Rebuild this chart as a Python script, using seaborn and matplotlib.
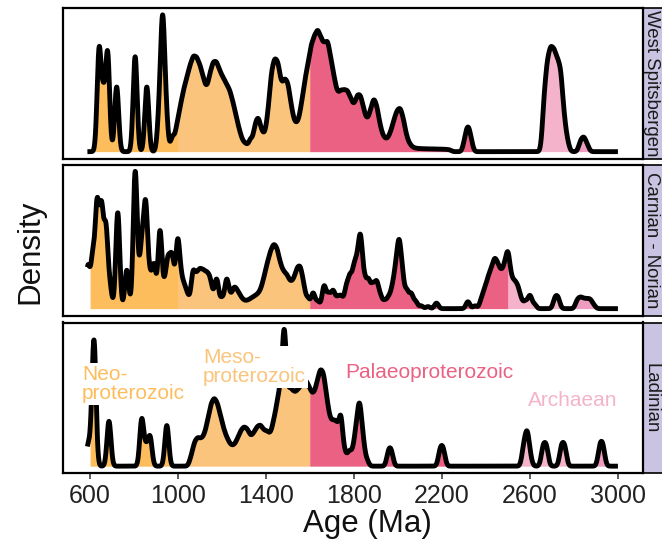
import numpy as np
import matplotlib
matplotlib.use("Agg")
import matplotlib.pyplot as plt
import matplotlib.transforms as mtransforms
from matplotlib.patches import Rectangle
import seaborn as sns

# ---------------- data (ages in Ma, relative weights) -------------
panels = ["West Spitsbergen", "Carnian - Norian", "Ladinian"]

ws_ages = [641, 660, 680, 721, 805, 858, 915, 930, 945, 975, 995, 1010, 1025, 1040, 1055,
           1070, 1085, 1100, 1115, 1130, 1145, 1160, 1175, 1190, 1205, 1220, 1235, 1250,
           1265, 1280, 1295, 1310, 1330, 1350, 1365, 1380, 1395, 1410, 1425, 1440, 1455,
           1470, 1485, 1500, 1515, 1530, 1545, 1560, 1575, 1590, 1605, 1620, 1635, 1650,
           1665, 1680, 1695, 1710, 1725, 1740, 1755, 1770, 1785, 1800, 1815, 1830, 1845,
           1860, 1875, 1890, 1905, 1920, 1935, 1950, 1965, 1980, 1995, 2010, 2025, 2040,
           2055, 2070, 2085, 2100, 2115, 2130, 2145, 2160, 2175, 2190, 2205, 2220, 2235,
           2305, 2318, 2331, 2665, 2680, 2695,
           2710, 2725, 2740, 2755, 2770, 2830, 2845, 2860]
ws_wts = [0.72, 0.37, 0.70, 0.47, 0.69, 0.47, 0.25, 0.87, 0.25, 0.10, 0.14, 0.22, 0.30, 0.36, 0.42,
          0.47, 0.46, 0.42, 0.36, 0.30, 0.38, 0.44, 0.44, 0.39, 0.36, 0.33, 0.30, 0.24,
          0.17, 0.10, 0.05, 0.04, 0.08, 0.14, 0.18, 0.10, 0.08, 0.20, 0.40, 0.46, 0.44,
          0.32, 0.36, 0.34, 0.22, 0.14, 0.14, 0.22, 0.34, 0.42, 0.52, 0.56, 0.60, 0.55,
          0.52, 0.55, 0.45, 0.36, 0.28, 0.30, 0.30, 0.30, 0.26, 0.22, 0.28, 0.28, 0.20,
          0.15, 0.20, 0.27, 0.22, 0.12, 0.07, 0.06, 0.09, 0.15, 0.20, 0.22, 0.16, 0.07,
          0.035, 0.02, 0.016, 0.015, 0.014, 0.014, 0.013, 0.013, 0.012, 0.012, 0.012, 0.011, 0.01,
          0.07, 0.13, 0.07, 0.30, 0.46, 0.52,
          0.50, 0.45, 0.42, 0.18, 0.06, 0.06, 0.08, 0.04]

cn_ages = [590, 612, 632, 652, 672, 690, 726, 767, 805, 822, 836, 853, 872, 891, 918, 940,
           955, 972, 985, 999, 1015, 1030, 1045, 1068, 1085, 1100, 1115, 1130, 1145, 1160,
           1176, 1199, 1221, 1238, 1255, 1270, 1285, 1300, 1315, 1330, 1345, 1360, 1375,
           1390, 1405, 1420, 1435, 1450, 1465, 1480, 1495, 1510, 1525, 1540, 1555, 1570,
           1590, 1614, 1636, 1664, 1685, 1705, 1725, 1742, 1765, 1782, 1800, 1815, 1830,
           1848, 1866, 1885, 1903, 1920, 1940, 1958, 1975, 1990, 2005, 2020, 2040, 2060,
           2080, 2105, 2136, 2175, 2318, 2350, 2380, 2395, 2410, 2425, 2440, 2455, 2470,
           2485, 2500, 2515, 2530, 2545, 2560, 2580, 2600, 2620, 2714, 2728, 2815, 2830, 2845,
           2860, 2875, 2890]
cn_wts = [0.30, 0.35, 0.72, 0.68, 0.55, 0.15, 0.70, 0.28, 0.98, 0.12, 0.40, 0.70, 0.20, 0.30, 0.56, 0.14,
          0.30, 0.32, 0.08, 0.45, 0.16, 0.12, 0.07, 0.24, 0.18, 0.20, 0.19, 0.18, 0.17, 0.06,
          0.20, 0.07, 0.20, 0.07, 0.12, 0.09, 0.06, 0.04, 0.04, 0.05, 0.06, 0.07, 0.09,
          0.15, 0.22, 0.28, 0.32, 0.30, 0.22, 0.18, 0.17, 0.13, 0.14, 0.20, 0.22, 0.14,
          0.07, 0.11, 0.05, 0.16, 0.10, 0.12, 0.07, 0.08, 0.14, 0.20, 0.24, 0.25, 0.45,
          0.18, 0.18, 0.15, 0.17, 0.08, 0.05, 0.07, 0.12, 0.22, 0.40, 0.20, 0.12, 0.10,
          0.05, 0.02, 0.015, 0.04, 0.05, 0.02, 0.06, 0.10, 0.16, 0.20, 0.26, 0.22, 0.18,
          0.22, 0.32, 0.15, 0.14, 0.12, 0.05, 0.05, 0.09, 0.03, 0.065, 0.065, 0.05, 0.06, 0.05,
          0.05, 0.05, 0.02]

la_ages = [590, 603, 618, 686, 835, 855, 873, 949, 1060, 1075, 1090, 1105, 1120, 1135, 1150,
           1165, 1180, 1195, 1210, 1225, 1240, 1255, 1270, 1285, 1300, 1315, 1330, 1345,
           1360, 1375, 1390, 1405, 1420, 1435, 1450, 1465, 1482, 1497, 1512, 1527, 1542,
           1557, 1572, 1587, 1602, 1617, 1632, 1647, 1662, 1677, 1692, 1707, 1722, 1740,
           1758, 1778, 1795, 1810, 1825, 1840, 1858, 1957, 1970, 2192, 2206, 2572, 2587,
           2600, 2660, 2675, 2743, 2758, 2918, 2932]
la_wts = [0.12, 0.08, 0.88, 0.32, 0.33, 0.12, 0.20, 0.29, 0.05, 0.12, 0.14, 0.13, 0.15, 0.22, 0.30,
          0.33, 0.30, 0.23, 0.17, 0.13, 0.10, 0.10, 0.13, 0.17, 0.19, 0.18, 0.14, 0.16,
          0.19, 0.20, 0.17, 0.17, 0.15, 0.22, 0.30, 0.40, 0.82, 0.35, 0.38, 0.35, 0.36,
          0.38, 0.42, 0.40, 0.36, 0.34, 0.40, 0.47, 0.45, 0.32, 0.22, 0.22, 0.22, 0.32,
          0.08, 0.09, 0.08, 0.20, 0.36, 0.16, 0.04, 0.085, 0.085, 0.10, 0.10, 0.12, 0.20,
          0.06, 0.12, 0.12, 0.12, 0.12, 0.12, 0.12]

era_starts = [600, 1000, 1600, 2500, 2800]
era_ends = [1000, 1600, 2500, 2800, 3000]
era_colors = ["#FDBD5D", "#FAC47C", "#EB6183", "#F4B3CB", "#EF9CC1"]

label_texts = ["Neo-\nproterozoic", "Meso-\nproterozoic", "Palaeoproterozoic", "Archaean"]
label_ages = [564, 1114, 1759, 2591]
label_colors = ["#FDBD5D", "#FAC47C", "#EB6183", "#F4B3CB"]

x_ticks = [600, 1000, 1400, 1800, 2200, 2600, 3000]

# ---------------- style ----------------
sns.set_theme(style="white")
plt.rcParams["font.family"] = ["Liberation Sans", "DejaVu Sans"]

W, H = 662, 547
fig = plt.figure(figsize=(W / 100, H / 100), dpi=100)
left, right = 63 / W, 643 / W
bounds = [(8, 158.5), (164.5, 315.5), (322.5, 473)]
axes = [fig.add_axes([left, 1 - b / H, right - left, (b - t) / H]) for t, b in bounds]

BW = 9.0
all_ages = [ws_ages, cn_ages, la_ages]
all_wts = [ws_wts, cn_wts, la_wts]

for i, (ax, name, ages, wts) in enumerate(zip(axes, panels, all_ages, all_wts)):
    a = np.asarray(ages, float)
    w = np.asarray(wts, float)
    sd = float(np.sqrt(np.cov(a, aweights=w)))
    sns.kdeplot(x=a, weights=w, bw_method=BW / sd, clip=(588, 3000), cut=30,
                gridsize=3000, color="black", lw=3.5, ax=ax, zorder=3)
    line = ax.lines[-1]
    line.set_solid_capstyle("butt")
    line.set_solid_joinstyle("round")
    xs, ys = line.get_xdata(), line.get_ydata()
    for s, e, c in zip(era_starts, era_ends, era_colors):
        m = (xs >= s - 1.5) & (xs <= e + 1.5) & (xs >= 600)
        ax.fill_between(xs, 0, ys, where=m, color=c, lw=0, zorder=2)
    ymax = ys.max()
    ax.set_ylim(-0.05 * ymax, 1.05 * ymax)
    ax.set_xlim(477, 3114)
    ax.set_xlabel("")
    ax.set_ylabel("")
    ax.set_yticks([])
    ax.set_xticks(x_ticks)
    for sp in ax.spines.values():
        sp.set_color("black")
        sp.set_linewidth(1.6)
    if i < 2:
        ax.tick_params(axis="x", length=0, labelbottom=False)
    else:
        ax.tick_params(axis="x", length=4, width=1.1, color="#333333", pad=4,
                       labelsize=18, labelcolor="#222222", bottom=True)
    # facet strip on the right
    strip = Rectangle((1.0, 0.0), 0.06, 1.0, transform=ax.transAxes, clip_on=False,
                      facecolor="#CAC4E2", edgecolor="black", lw=1.2, zorder=1)
    ax.add_patch(strip)
    ax.text(1.0138, 0.5, name, transform=ax.transAxes, rotation=-90, ha="center",
            va="center", fontsize=13.4, color="#1a1a1a", clip_on=False)

# era labels on the bottom panel
ax3 = axes[2]
trans = mtransforms.blended_transform_factory(ax3.transData, ax3.transAxes)
label_y = [0.591, 0.704, 0.671, 0.485]
for txt, xa, yy, col in zip(label_texts, label_ages, label_y, label_colors):
    ax3.text(xa, yy, txt, transform=trans, ha="left", va="center", fontsize=15,
             color=col, linespacing=1.0, zorder=6,
             bbox=dict(boxstyle="square,pad=0.1", fc="white", ec="none"))

fig.text(30 / W, 1 - 252 / H, "Density", rotation=90, ha="center", va="center",
         fontsize=22.5, color="#111111")
fig.text(367 / W, 1 - 524 / H, "Age (Ma)", ha="center", va="center",
         fontsize=22.5, color="#111111")

fig.savefig("out.png", dpi=100)
